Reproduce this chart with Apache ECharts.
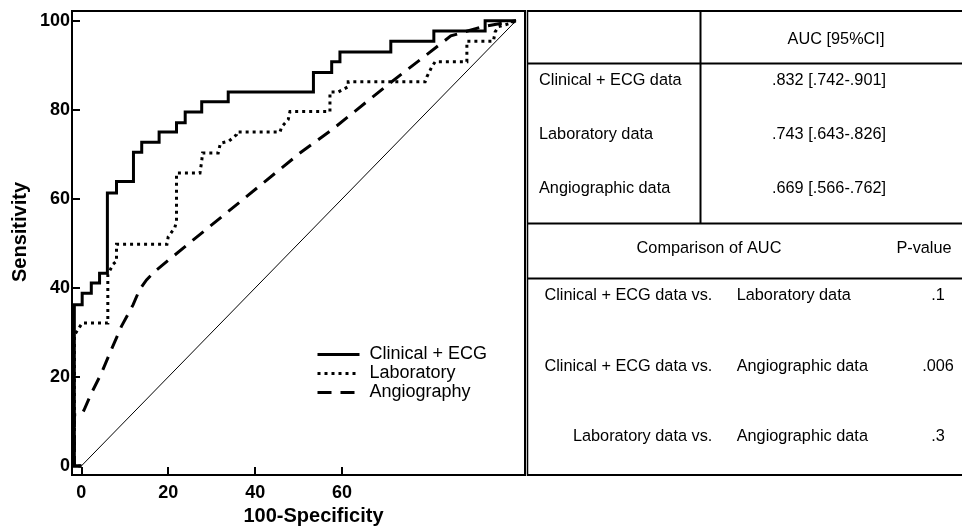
<!DOCTYPE html>
<html>
<head>
<meta charset="utf-8">
<script src="https://cdn.jsdelivr.net/npm/echarts@6/dist/echarts.min.js"></script>
<style>html,body{margin:0;padding:0;background:#fff}#c{width:962px;height:528px}</style>
</head>
<body>
<div id="c"></div>
<script>
// ---- data ----
const xTicks = [0, 20, 40, 60];
const yTicks = [0, 20, 40, 60, 80, 100];
const seriesNames = ['Clinical + ECG', 'Laboratory', 'Angiography'];

const clinicalROC = [[0,0],[-1.6,0],[-1.6,36.2],[0.2,36.2],[0.2,38.8],[2.3,38.8],[2.3,41.1],[4.2,41.1],[4.2,43.3],[6.0,43.3],[6.0,61.3],[8.1,61.3],[8.1,63.9],[12.0,63.9],[12.0,70.5],[13.9,70.5],[13.9,72.7],[17.9,72.7],[17.9,75.0],[21.9,75.0],[21.9,77.1],[23.9,77.1],[23.9,79.5],[27.7,79.5],[27.7,81.8],[33.8,81.8],[33.8,84.0],[53.4,84.0],[53.4,88.4],[57.6,88.4],[57.6,90.8],[59.5,90.8],[59.5,93.0],[71.2,93.0],[71.2,95.4],[81.1,95.4],[81.1,97.7],[92.9,97.7],[92.9,100],[100,100]];

const laboratoryROC = [[0,0],[-1.6,0],[-1.6,29.4],[-0.4,31.2],[0.2,32.1],[6.1,32.1],[6.1,43.0],[7.3,45.3],[8.1,46.0],[8.1,49.8],[19.7,49.8],[20.0,51.5],[21.5,53.5],[21.9,55.0],[21.9,65.8],[27.3,65.8],[27.7,68.5],[27.9,70.3],[31.5,70.3],[32.0,72.5],[34.0,73.0],[35.7,74.4],[35.8,75.0],[45.7,75.0],[46.1,76.2],[47.6,77.8],[48.0,79.6],[57.2,79.6],[57.2,84.0],[59.1,84.0],[61.4,85.2],[61.4,86.3],[79.1,86.3],[79.5,87.4],[80.6,89.6],[81.4,90.8],[88.7,90.8],[88.7,95.4],[94.8,95.4],[95.2,97.5],[96.0,98.7],[99.0,99.5],[100,100]];

const angiographyROC = [[0,0],[-1.6,0],[-1.6,11.5],[0.0,11.5],[0.6,12.5],[2.3,16.3],[4.6,20.8],[6.9,26.1],[9.2,31.3],[11.9,36.2],[13.4,39.6],[15.0,41.8],[16.9,43.7],[20.0,46.2],[50.3,70.3],[58.0,75.8],[71.0,86.0],[85.0,96.6],[92.0,98.6],[100,100]];

const referenceLine = [[0,0],[100,100]];

// ---- table text ----
const aucHeader = 'AUC [95%CI]';
const aucRowLabels = ['Clinical + ECG data', 'Laboratory data', 'Angiographic data'];
const aucValues = ['.832 [.742-.901]', '.743 [.643-.826]', '.669 [.566-.762]'];
const compHeader = 'Comparison of AUC';
const pHeader = 'P-value';
const compLeft = ['Clinical + ECG data vs.', 'Clinical + ECG data vs.', 'Laboratory data vs.'];
const compRight = ['Laboratory data', 'Angiographic data', 'Angiographic data'];
const pValues = ['.1', '.006', '.3'];

// ---- chart ----
const FONT = '"Liberation Sans", Arial, sans-serif';
const chart = echarts.init(document.getElementById('c'), null, {renderer: 'canvas'});

const g = [];
function hline(y, x1, x2, w) { g.push({type:'line', shape:{x1:x1, y1:y, x2:x2, y2:y}, style:{stroke:'#000', lineWidth:w||2}, z:10}); }
function vline(x, y1, y2, w) { g.push({type:'line', shape:{x1:x, y1:y1, x2:x, y2:y2}, style:{stroke:'#000', lineWidth:w||2}, z:10}); }
function txt(s, x, y, align) { g.push({type:'text', x:x, y:y, z:11, style:{text:s, fill:'#000', fontSize:16.3, fontFamily:FONT, align:align||'left', verticalAlign:'middle'}}); }

g.push({type:'rect', shape:{x:527, y:11, width:435, height:464}, style:{fill:'#fff'}, z:9});
vline(527.5, 10, 476, 1.5);
hline(11, 527, 962);
hline(63.5, 527, 962);
vline(700.5, 11, 223.5);
hline(223.5, 527, 962);
hline(278.5, 527, 962);
hline(475, 527, 962);

txt(aucHeader, 836, 40, 'center');
const aucY = [80.7, 135, 188.3];
aucRowLabels.forEach((s, i) => txt(s, 539, aucY[i], 'left'));
aucValues.forEach((s, i) => txt(s, 829, aucY[i], 'center'));
txt(compHeader, 709, 248.3, 'center');
txt(pHeader, 924, 248.3, 'center');
const compY = [296, 366.7, 436.7];
compLeft.forEach((s, i) => txt(s, 712.3, compY[i], 'right'));
compRight.forEach((s, i) => txt(s, 736.7, compY[i], 'left'));
pValues.forEach((s, i) => txt(s, 938, compY[i], 'center'));

function roc(name, data, lineStyle) {
  return {
    name: name, type: 'line', data: data, symbol: 'none', showSymbol: false, silent: true,
    lineStyle: Object.assign({color:'#000', width:3, cap:'butt', join:'miter'}, lineStyle),
    itemStyle: {color:'rgba(0,0,0,0)', borderWidth: 0}, animation: false, z: 3
  };
}

chart.setOption({
  animation: false,
  backgroundColor: '#fff',
  textStyle: {fontFamily: FONT},
  grid: {left: 72, top: 11, right: 437, bottom: 53, show: true, borderColor: '#000', borderWidth: 2,
         backgroundColor: 'transparent', containLabel: false, outerBoundsMode: 'none'},
  legend: {
    data: seriesNames, orient: 'vertical', left: 316, top: 345, padding: 0,
    itemWidth: 42, itemHeight: 19, itemGap: 0,
    itemStyle: {color: 'rgba(0,0,0,0)', borderWidth: 0, opacity: 0},
    lineStyle: {width: 3},
    textStyle: {fontSize: 18, color: '#000', fontFamily: FONT, lineHeight: 19, padding: [0,0,0,5]},
    selectedMode: false
  },
  xAxis: {
    type: 'value', min: -2.14, max: 102.07,
    name: '100-Specificity', nameLocation: 'middle', nameGap: 31,
    nameTextStyle: {fontSize: 20, fontWeight: 'bold', color: '#000', fontFamily: FONT, padding: [0,0,0,30]},
    axisLine: {show: true, onZero: false, lineStyle: {color: '#000', width: 2}},
    axisTick: {show: true, inside: true, length: 8, lineStyle: {color: '#000', width: 2}, customValues: xTicks},
    axisLabel: {fontSize: 18, fontWeight: 'bold', color: '#000', fontFamily: FONT, margin: 9, customValues: xTicks},
    splitLine: {show: false}
  },
  yAxis: {
    type: 'value', min: -2.02, max: 102.2,
    name: 'Sensitivity', nameLocation: 'middle', nameGap: 42,
    nameTextStyle: {fontSize: 20, fontWeight: 'bold', color: '#000', fontFamily: FONT, padding: [0,0,0,22]},
    axisLine: {show: true, onZero: false, lineStyle: {color: '#000', width: 2}},
    axisTick: {show: true, inside: true, length: 8, lineStyle: {color: '#000', width: 2}, customValues: yTicks},
    axisLabel: {fontSize: 18, fontWeight: 'bold', color: '#000', fontFamily: FONT, margin: 2, customValues: yTicks},
    splitLine: {show: false}
  },
  series: [
    roc(seriesNames[0], clinicalROC, {type: 'solid'}),
    roc(seriesNames[1], laboratoryROC, {type: [3, 4]}),
    roc(seriesNames[2], angiographyROC, {type: [14, 9]}),
    {name: 'Reference', type: 'line', data: referenceLine, symbol: 'none', silent: true,
     lineStyle: {color: '#000', width: 1}, z: 2}
  ],
  graphic: g
});
</script>
</body>
</html>
